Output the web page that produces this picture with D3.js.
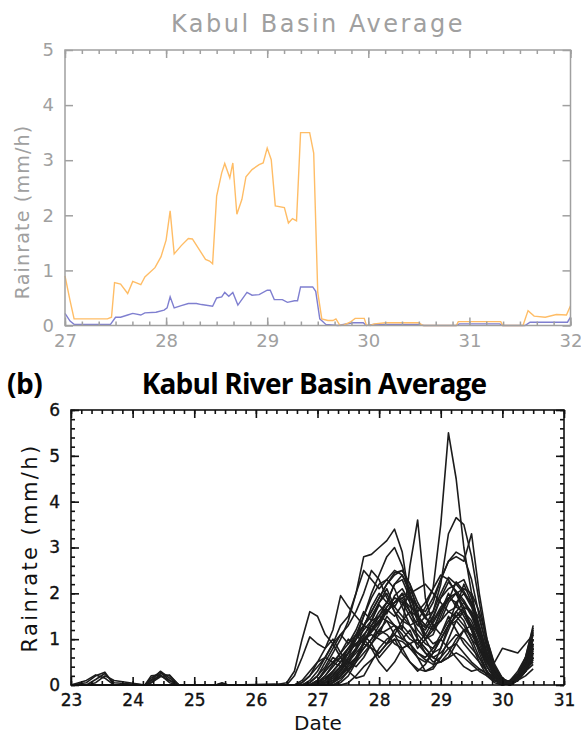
<!DOCTYPE html>
<html><head><meta charset="utf-8">
<script src="https://cdn.jsdelivr.net/npm/d3@7"></script>
<style>body{margin:0;background:#fff}svg{display:block}</style>
</head><body>
<svg id="c" width="581" height="736"></svg>
<script>
// ---------- Panel (a) data ----------
const topTitle = "Kabul Basin Average";
const topXTicks = [27, 28, 29, 30, 31, 32];
const topYTicks = [0, 1, 2, 3, 4, 5];
const orangeDates = [27.0,27.05,27.09,27.42,27.46,27.49,27.55,27.62,27.67,27.75,27.79,27.89,27.95,28.0,28.04,28.08,28.15,28.22,28.26,28.39,28.43,28.46,28.5,28.55,28.58,28.63,28.66,28.7,28.75,28.79,28.85,28.92,28.96,29.0,29.04,29.08,29.17,29.21,29.25,29.29,29.33,29.42,29.46,29.5,29.54,29.6,29.65,29.68,29.72,29.76,29.82,29.87,29.96,29.98,30.02,30.06,30.17,30.5,30.54,30.87,30.89,31.31,31.33,31.53,31.58,31.64,31.75,31.86,31.96,32.0];
const orangeValues = [0.9,0.45,0.12,0.12,0.15,0.78,0.75,0.58,0.8,0.74,0.88,1.05,1.25,1.55,2.08,1.3,1.45,1.58,1.57,1.2,1.17,1.12,2.35,2.77,2.94,2.68,2.95,2.02,2.29,2.7,2.83,2.92,2.95,3.22,3.01,2.17,2.14,1.86,1.94,1.9,3.5,3.5,3.13,0.6,0.12,0.09,0.09,0.12,0.0,0.01,0.06,0.13,0.13,0.01,0.0,0.03,0.05,0.05,0.0,0.0,0.07,0.07,0.0,0.0,0.27,0.17,0.15,0.2,0.19,0.36];
const blueDates = [27.0,27.05,27.09,27.45,27.5,27.55,27.62,27.67,27.75,27.79,27.9,27.98,28.01,28.04,28.08,28.15,28.22,28.3,28.35,28.46,28.5,28.55,28.58,28.62,28.66,28.71,28.8,28.85,28.92,29.0,29.03,29.07,29.15,29.2,29.27,29.3,29.33,29.45,29.48,29.52,29.58,29.7,29.85,29.95,29.98,30.05,30.5,30.55,30.87,30.9,31.3,31.33,31.55,31.6,31.97,32.0];
const blueValues = [0.22,0.08,0.02,0.02,0.15,0.15,0.19,0.22,0.19,0.23,0.24,0.28,0.32,0.52,0.32,0.36,0.4,0.4,0.38,0.35,0.5,0.52,0.6,0.53,0.6,0.37,0.6,0.55,0.56,0.64,0.64,0.47,0.47,0.42,0.45,0.45,0.7,0.7,0.62,0.12,0.02,0.0,0.05,0.05,0.0,0.02,0.02,0.0,0.0,0.03,0.03,0.0,0.0,0.06,0.06,0.15];

// ---------- Panel (b) data ----------
const botTitle = "Kabul River Basin Average";
const botXTicks = [23, 24, 25, 26, 27, 28, 29, 30, 31];
const botYTicks = [0, 1, 2, 3, 4, 5, 6];
const earlyDates = [23.0,23.25,23.4,23.55,23.7,24.2,24.3,24.45,24.6,24.75,25.35,25.45,25.55,26.3];
const mainDates = [26.5,26.625,26.75,26.875,27.0,27.125,27.25,27.375,27.5,27.625,27.75,27.875,28.0,28.125,28.25,28.375,28.5,28.625,28.75,28.875,29.0,29.125,29.25,29.375,29.5,29.625,29.75,29.875,30.0,30.125,30.25,30.375,30.5];
const earlyValues = [
 [0,0.05,0.2,0.28,0,0,0.1,0.3,0.15,0,0,0.05,0,0],
 [0,0.1,0.22,0.15,0,0,0.15,0.28,0.1,0,0,0.03,0,0],
 [0,0,0.12,0.25,0.05,0,0.05,0.25,0.2,0,0,0,0,0],
 [0,0,0.05,0.2,0.1,0,0.2,0.22,0.05,0,0,0,0,0.02],
 [0,0,0,0,0,0,0.1,0.2,0.1,0,0,0,0,0],
 [0,0,0,0,0,0,0.05,0.18,0.22,0,0,0.02,0,0],
 [0,0,0,0,0,0,0,0,0,0,0,0,0,0],[0,0,0,0,0,0,0,0,0,0,0,0,0,0],
 [0,0,0,0,0,0,0,0,0,0,0,0,0,0],[0,0,0,0,0,0,0,0,0,0,0,0,0,0],
 [0,0,0,0,0,0,0,0,0,0,0,0,0,0],[0,0,0,0,0,0,0,0,0,0,0,0,0,0],
 [0,0,0,0,0,0,0,0,0,0,0,0,0,0],[0,0,0,0,0,0,0,0,0,0,0,0,0,0],
 [0,0,0,0,0,0,0,0,0,0,0,0,0,0],[0,0,0,0,0,0,0,0,0,0,0,0,0,0],
 [0,0,0,0,0,0,0,0,0,0,0,0,0,0],[0,0,0,0,0,0,0,0,0,0,0,0,0,0],
 [0,0,0,0,0,0,0,0,0,0,0,0,0,0],[0,0,0,0,0,0,0,0,0,0,0,0,0,0],
 [0,0,0,0,0,0,0,0,0,0,0,0,0,0],[0,0,0,0,0,0,0,0,0,0,0,0,0,0],
 [0,0,0,0,0,0,0,0,0,0,0,0,0,0],[0,0,0,0,0,0,0,0,0,0,0,0,0,0],
 [0,0,0,0,0,0,0,0,0,0,0,0,0,0],[0,0,0,0,0,0,0,0,0,0,0,0,0,0],
 [0,0,0,0,0,0,0,0,0,0,0,0,0,0],[0,0,0,0,0,0,0,0,0,0,0,0,0,0],
 [0,0,0,0,0,0,0,0,0,0,0,0,0,0],[0,0,0,0,0,0,0,0,0,0,0,0,0,0]
];
const mainValues = [
 [0,0,0.05,0.2,0.4,0.6,0.9,1.1,1.3,1.6,2.0,2.5,2.3,1.9,1.6,1.4,1.3,1.4,1.7,2.1,3.5,5.5,4.5,3.0,2.0,1.2,0.6,0.25,0.1,0.05,0.2,0.5,0.9],
 [0,0,0,0.1,0.3,0.6,0.9,1.3,1.5,2.0,2.8,2.85,3.0,3.15,3.4,2.9,1.8,1.0,0.7,0.5,0.6,1.0,1.4,1.6,1.3,0.8,0.4,0.15,0.05,0.05,0.15,0.4,0.8],
 [0,0,0,0,0.1,0.3,0.5,0.7,0.9,1.1,1.3,1.5,1.8,2.0,1.6,1.2,2.6,3.6,1.9,1.3,1.4,1.8,2.0,1.7,1.2,0.7,0.3,0.1,0.05,0.1,0.3,0.6,1.0],
 [0,0,0,0,0.05,0.2,0.4,0.6,0.8,1.0,1.3,1.6,1.9,2.2,2.4,2.5,2.2,1.8,1.5,1.6,2.2,3.3,3.65,3.5,2.8,1.8,0.9,0.4,0.15,0.05,0.1,0.3,0.6],
 [0,0,0,0,0,0.1,0.3,0.5,0.7,0.9,1.1,1.3,1.5,1.8,2.2,2.4,2.1,1.7,1.5,1.8,2.3,2.7,2.8,2.7,3.3,2.0,1.0,0.4,0.1,0.05,0.1,0.3,0.7],
 [0.05,0.3,1.0,1.6,1.5,1.1,0.9,0.6,0.3,0.15,0.2,0.5,0.8,1.0,1.1,1.0,0.9,0.7,0.6,0.8,1.1,1.4,1.6,1.4,1.0,0.6,0.3,0.1,0.05,0.1,0.25,0.5,0.8],
 [0,0.2,0.6,1.05,0.9,0.8,1.0,0.7,0.5,0.4,0.6,0.9,1.2,1.4,1.3,1.1,0.8,0.6,0.5,0.7,1.0,1.3,1.4,1.2,0.9,0.5,0.2,0.05,0.0,0.05,0.2,0.4,0.7],
 [0,0,0.05,0.2,0.5,0.8,1.2,1.95,1.7,1.5,1.3,1.2,1.4,1.7,1.9,1.8,1.5,1.2,1.0,1.2,1.6,1.9,1.8,1.5,1.2,0.8,0.4,0.15,0.05,0.05,0.2,0.5,1.1],
 [0,0,0,0.05,0.2,0.4,0.7,1.0,1.4,2.0,2.5,2.3,2.1,2.3,2.5,2.4,2.0,1.5,1.1,0.9,1.0,1.3,1.5,1.6,1.4,1.0,0.5,0.2,0.05,0.05,0.2,0.5,1.2],
 [0,0,0,0,0.05,0.15,0.3,0.5,0.8,1.0,1.3,1.6,1.9,2.2,2.45,2.5,2.2,1.6,1.0,0.7,0.8,1.2,1.6,1.8,1.6,1.1,0.6,0.2,0.05,0.0,0.1,0.4,0.9],
 [0,0,0,0,0,0.05,0.2,0.4,0.7,1.0,1.2,1.4,1.5,1.4,1.1,0.8,0.5,0.35,0.3,0.4,0.8,1.3,1.8,2.0,1.8,1.3,0.7,0.3,0.1,0.05,0.15,0.45,1.0],
 [0,0,0,0,0,0,0.1,0.3,0.5,0.8,1.0,1.2,1.4,1.6,1.8,1.9,1.7,1.6,1.8,2.1,2.4,2.3,2.0,1.6,1.2,0.8,0.4,0.15,0.05,0.05,0.2,0.6,1.3],
 [0,0,0.1,0.3,0.5,0.6,0.5,0.4,0.5,0.7,0.9,0.8,0.7,0.9,1.2,1.3,1.1,0.9,0.7,0.6,0.7,0.9,1.1,1.0,0.8,0.6,0.3,0.1,0.05,0.1,0.2,0.35,0.5],
 [0,0,0,0,0.05,0.15,0.3,0.5,0.7,0.9,1.0,1.2,1.4,1.6,1.8,2.0,1.9,1.7,1.6,1.9,2.3,2.7,2.9,2.8,2.3,1.5,0.8,0.3,0.1,0.05,0.1,0.3,0.6],
 [0,0,0,0,0,0.1,0.2,0.4,0.7,1.1,1.5,1.9,2.2,2.3,2.1,1.7,1.3,1.0,0.8,0.6,0.5,0.7,1.0,1.2,1.1,0.8,0.5,0.2,0.05,0.05,0.15,0.35,0.7],
 [0,0,0,0,0.05,0.1,0.25,0.4,0.6,0.8,1.0,1.1,1.0,0.9,1.1,1.4,1.6,1.5,1.3,1.2,1.4,1.6,1.5,1.3,1.0,0.8,0.6,0.5,0.8,0.75,0.7,0.9,1.1],
 [0,0,0,0,0,0,0,0.05,0.2,0.5,0.9,1.3,1.6,1.8,1.7,1.5,1.3,1.1,0.9,0.8,1.0,1.3,1.5,1.7,1.6,1.2,0.6,0.2,0.05,0.0,0.1,0.3,0.6],
 [0,0,0,0,0.1,0.3,0.5,0.6,0.8,0.9,1.0,0.8,0.5,0.3,0.5,0.8,0.9,0.6,0.3,0.35,0.6,0.8,0.9,0.7,0.5,0.35,0.25,0.1,0.0,0.05,0.15,0.3,0.45],
 [0,0,0,0,0,0.05,0.15,0.3,0.6,1.0,1.5,2.0,2.4,2.8,3.0,2.6,2.0,1.4,1.0,1.1,1.5,1.9,2.0,1.8,1.5,1.1,0.6,0.25,0.05,0.05,0.15,0.4,0.8],
 [0,0,0,0,0,0,0.05,0.15,0.3,0.5,0.7,0.9,1.1,1.2,1.3,1.2,1.0,0.9,1.1,1.4,1.7,1.9,2.0,2.1,2.0,1.6,1.0,0.45,0.15,0.05,0.1,0.3,0.55],
 [0,0,0,0,0,0.05,0.1,0.25,0.45,0.6,0.8,1.0,1.2,1.1,0.9,0.8,0.9,1.0,0.8,0.6,0.5,0.6,0.9,1.2,1.3,1.1,0.7,0.3,0.1,0.05,0.1,0.3,0.6],
 [0,0,0,0,0,0,0.05,0.2,0.4,0.6,0.9,1.2,1.5,1.7,1.9,1.85,1.6,1.3,1.2,1.5,1.9,2.1,2.2,2.3,1.9,1.3,0.7,0.3,0.1,0.05,0.2,0.5,1.0],
 [0,0,0,0,0,0,0,0,0.05,0.2,0.4,0.55,0.7,0.9,1.0,0.95,0.8,0.7,0.55,0.45,0.5,0.6,0.7,0.6,0.45,0.3,0.2,0.1,0.05,0.05,0.1,0.2,0.35],
 [0,0,0,0,0,0.05,0.1,0.2,0.35,0.55,0.8,1.0,1.3,1.6,1.8,1.9,2.0,2.1,2.2,2.0,1.8,1.6,1.7,1.6,1.3,0.9,0.5,0.2,0.05,0.0,0.1,0.35,0.75],
 [0,0,0,0.05,0.2,0.5,0.8,1.1,0.9,1.2,1.6,1.4,1.8,2.1,1.7,2.0,1.6,1.3,1.5,1.2,1.6,2.0,1.7,2.2,1.8,1.2,0.6,0.2,0.05,0.05,0.2,0.45,0.9],
 [0,0,0,0,0.1,0.35,0.6,0.5,0.8,1.1,0.9,1.3,1.1,1.5,1.3,1.0,1.2,0.8,1.0,1.3,1.1,1.5,1.2,0.9,0.7,0.5,0.3,0.1,0.0,0.05,0.15,0.4,0.8],
 [0,0,0,0,0,0.05,0.15,0.35,0.55,0.75,1.05,1.4,1.75,1.55,1.95,2.1,1.8,1.4,1.25,1.45,1.9,2.25,2.05,1.85,1.55,1.0,0.55,0.2,0.05,0.0,0.15,0.5,1.15],
 [0,0,0,0,0,0,0.05,0.2,0.45,0.8,1.25,1.7,2.0,1.8,2.2,2.3,1.9,1.5,1.3,1.6,2.0,2.35,2.2,2.0,1.7,1.2,0.6,0.25,0.05,0.05,0.2,0.6,1.25],
 [0,0,0,0,0.05,0.2,0.45,0.7,1.0,0.85,1.1,0.9,0.6,0.8,1.0,0.7,0.5,0.3,0.45,0.7,1.0,0.8,0.6,0.4,0.3,0.35,0.25,0.15,0.05,0.1,0.2,0.4,0.65],
 [0,0,0,0,0,0,0,0.1,0.3,0.6,0.95,1.15,1.35,1.65,1.5,1.75,1.95,1.7,1.45,1.35,1.65,1.85,2.25,2.05,1.75,1.45,0.85,0.35,0.1,0.05,0.1,0.35,0.85]
];

// ---------- drawing ----------
const svg = d3.select("#c");

function frameAxes(g, x, y, xMaj, xMin, yMaj, yMin, color, font, fs, lw, xPad, yPad) {
  const [x0, x1] = x.range(), [yb, yt] = y.range();
  const mk = (axis, tf) => {
    const a = g.append("g").attr("transform", tf).call(axis);
    a.select(".domain").remove();
    a.selectAll("line").attr("stroke", color).attr("stroke-width", lw);
    a.selectAll("text").attr("fill", color).attr("font-family", font).attr("font-size", fs);
    return a;
  };
  mk(d3.axisBottom(x).tickValues(xMaj).tickSize(-8).tickPadding(xPad).tickFormat(d3.format("d")), `translate(0,${yb})`);
  mk(d3.axisBottom(x).tickValues(xMin).tickSize(-4).tickFormat(""), `translate(0,${yb})`);
  mk(d3.axisTop(x).tickValues(xMaj).tickSize(-8).tickFormat(""), `translate(0,${yt})`);
  mk(d3.axisTop(x).tickValues(xMin).tickSize(-4).tickFormat(""), `translate(0,${yt})`);
  mk(d3.axisLeft(y).tickValues(yMaj).tickSize(-8).tickPadding(yPad).tickFormat(d3.format("d")), `translate(${x0},0)`);
  mk(d3.axisRight(y).tickValues(yMaj).tickSize(-8).tickFormat(""), `translate(${x1},0)`);
  if (yMin.length) {
    mk(d3.axisLeft(y).tickValues(yMin).tickSize(-4).tickFormat(""), `translate(${x0},0)`);
    mk(d3.axisRight(y).tickValues(yMin).tickSize(-4).tickFormat(""), `translate(${x1},0)`);
  }
  g.append("rect").attr("x", x0).attr("y", yt).attr("width", x1 - x0).attr("height", yb - yt)
    .attr("fill", "none").attr("stroke", color).attr("stroke-width", lw);
}

function minors(lo, hi, step) {
  const out = [];
  const n = Math.round((hi - lo) / step);
  for (let i = 0; i <= n; i++) out.push(+(lo + i * step).toFixed(4));
  return out;
}

// ----- Panel (a)
{
  const x = d3.scaleLinear().domain([27, 32]).range([65, 570.5]);
  const y = d3.scaleLinear().domain([0, 5]).range([325.5, 50]);
  const g = svg.append("g");
  const grey = "#a0a0a0";
  const font = "DejaVu Sans, sans-serif";
  const line = d3.line().x(d => x(d[0])).y(d => y(d[1]));
  g.append("path").datum(blueDates.map((d, i) => [d, blueValues[i]]))
    .attr("d", line).attr("fill", "none").attr("stroke", "#7f7fd0").attr("stroke-width", 1.4);
  g.append("path").datum(orangeDates.map((d, i) => [d, orangeValues[i]]))
    .attr("d", line).attr("fill", "none").attr("stroke", "#ffbd66").attr("stroke-width", 1.4);
  frameAxes(g, x, y, topXTicks, minors(27, 32, 1 / 6), topYTicks, [], grey, font, 18, 1.5, 9, 11);
  g.append("text").attr("x", 318).attr("y", 32).attr("text-anchor", "middle")
    .attr("font-family", font).attr("font-size", 24).attr("letter-spacing", 2.5)
    .attr("fill", grey).text(topTitle);
  g.append("text").attr("transform", "translate(29,212) rotate(-90)").attr("text-anchor", "middle")
    .attr("font-family", font).attr("font-size", 19).attr("letter-spacing", 1.2)
    .attr("fill", grey).text("Rainrate (mm/h)");
}

// ----- Panel (b)
{
  const x = d3.scaleLinear().domain([23, 31]).range([71, 564]);
  const y = d3.scaleLinear().domain([0, 6]).range([685, 410]);
  const g = svg.append("g");
  const font = "DejaVu Sans, sans-serif";
  const line = d3.line().x(d => x(d[0])).y(d => y(d[1]));
  const dates = earlyDates.concat(mainDates);
  mainValues.forEach((vals, k) => {
    const all = earlyValues[k].concat(vals);
    g.append("path").datum(dates.map((d, i) => [d, all[i]]))
      .attr("d", line).attr("fill", "none").attr("stroke", "#1c1c1c").attr("stroke-width", 1.6)
      .attr("stroke-linejoin", "round");
  });
  frameAxes(g, x, y, botXTicks, minors(23, 31, 1 / 6), botYTicks, minors(0, 6, 0.2), "#111", font, 17, 1.6, 9, 11);
  g.selectAll(".tick text").attr("stroke", "#111").attr("stroke-width", 0.35);
  g.append("text").attr("x", 7).attr("y", 394)
    .attr("font-family", "Open Sans, sans-serif").attr("font-weight", "bold").attr("font-size", 28)
    .attr("letter-spacing", -0.5).attr("fill", "#000").text("(b)");
  g.append("text").attr("x", 314).attr("y", 394).attr("text-anchor", "middle")
    .attr("font-family", "Open Sans, sans-serif").attr("font-weight", "bold").attr("font-size", 28)
    .attr("letter-spacing", -0.8).attr("fill", "#000").text(botTitle);
  g.append("text").attr("transform", "translate(37,548) rotate(-90)").attr("text-anchor", "middle")
    .attr("font-family", font).attr("font-size", 21).attr("letter-spacing", 2.4)
    .attr("fill", "#111").text("Rainrate (mm/h)");
  g.append("text").attr("x", 318).attr("y", 730).attr("text-anchor", "middle")
    .attr("font-family", font).attr("font-size", 20)
    .attr("fill", "#111").text("Date");
}
</script>
</body></html>
